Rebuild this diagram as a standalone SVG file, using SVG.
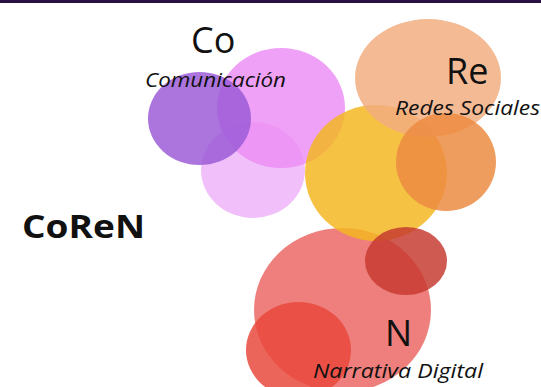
<svg xmlns="http://www.w3.org/2000/svg" width="541" height="387" viewBox="0 0 541 387">
<style>
.t{font-family:"Open Sans","Liberation Sans",sans-serif;fill:#111}
.big{font-size:36px}
.sub{font-size:20px;font-style:italic}
.b{opacity:0.84}
</style>
<rect width="541" height="387" fill="#fff"/>
<rect width="541" height="3" fill="#2a0f44"/>
<g id="blobs">
<ellipse id="salmon" cx="342.5" cy="310" rx="88.5" ry="82" fill="#eb6663" class="b"/>
<ellipse id="redlow" cx="298.5" cy="350" rx="52.5" ry="48" fill="#e8473a" class="b"/>
<ellipse id="lightpink" cx="253" cy="170" rx="52" ry="48" fill="#eeb3f8" class="b"/>
<ellipse id="pink" cx="281" cy="108" rx="64" ry="60" fill="#ec8ef6" class="b"/>
<ellipse id="purple" cx="199.5" cy="118.5" rx="51.5" ry="46.5" fill="#9b5ad6" class="b"/>
<ellipse id="yellow" cx="376" cy="173" rx="71" ry="68" fill="#f3b620" class="b"/>
<ellipse id="peach" cx="428" cy="78" rx="73" ry="59" fill="#f2ad80" class="b"/>
<ellipse id="orange" cx="446" cy="162" rx="50" ry="49" fill="#ec8a40" class="b"/>
<ellipse id="darkred" cx="406" cy="261" rx="41" ry="34" fill="#c63a30" class="b"/>
</g>
<g id="labels">
<text class="t big" x="191" y="53">Co</text>
<text class="t sub" x="145" y="87" textLength="141" lengthAdjust="spacingAndGlyphs">Comunicación</text>
<text class="t big" x="446" y="84">Re</text>
<text class="t sub" x="395" y="115" textLength="145" lengthAdjust="spacingAndGlyphs">Redes Sociales</text>
<text class="t" x="22" y="238" font-size="33" font-weight="bold" textLength="123" lengthAdjust="spacingAndGlyphs">CoReN</text>
<text class="t big" x="385" y="346">N</text>
<text class="t sub" x="313" y="378" textLength="170" lengthAdjust="spacingAndGlyphs">Narrativa Digital</text>
</g>
</svg>
